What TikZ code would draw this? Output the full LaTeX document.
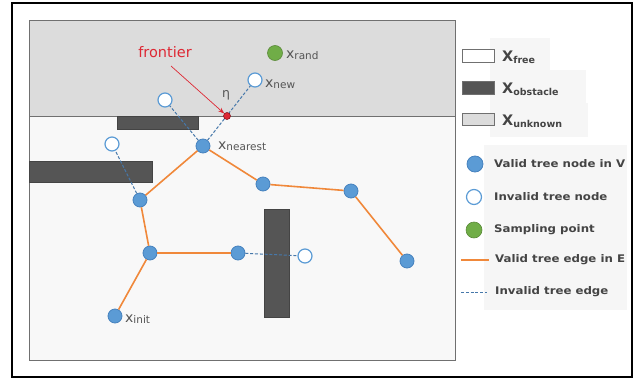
\documentclass[tikz,border=0pt]{standalone}
\usepackage{fontspec}
\setmainfont{DejaVu Sans}
\usetikzlibrary{positioning,arrows.meta}
\definecolor{unknowngray}{RGB}{220,220,220}
\definecolor{freegray}{RGB}{248,248,248}
\definecolor{framegray}{RGB}{112,112,112}
\definecolor{obstgray}{RGB}{85,85,85}
\definecolor{nodeblue}{RGB}{91,155,213}
\definecolor{nodeedge}{RGB}{70,130,190}
\definecolor{treeorange}{RGB}{240,136,58}
\definecolor{edgeblue}{RGB}{70,120,170}
\definecolor{sampgreen}{RGB}{112,173,71}
\definecolor{frontred}{RGB}{222,40,52}
\definecolor{labelgray}{RGB}{85,85,85}
\definecolor{leggray}{RGB}{68,68,68}
\definecolor{legbg}{RGB}{246,246,246}
\newcommand{\xlab}[1]{{\fontsize{14}{14}\selectfont x}\raisebox{-1.5pt}{\fontsize{10.5}{10.5}\selectfont #1}}
\newcommand{\Xlab}[1]{{\fontsize{14.5}{14.5}\selectfont\bfseries X}\raisebox{-2pt}{\fontsize{9.5}{9.5}\selectfont\bfseries #1}}
\newcommand{\legtxt}[1]{\scalebox{1.12}[1]{#1}}

\begin{document}
\begin{tikzpicture}[x=1pt, y=-1pt, >=Stealth,
  valid/.style={circle, fill=nodeblue, draw=nodeedge, line width=0.8pt, minimum size=14pt, inner sep=0pt},
  invalid/.style={circle, fill=white, draw=nodeblue, line width=1.2pt, minimum size=14pt, inner sep=0pt},
  sample/.style={circle, fill=sampgreen, draw=sampgreen!80!black, line width=0.6pt, minimum size=15pt, inner sep=0pt},
  treeedge/.style={draw=treeorange, line width=1.6pt},
  badedge/.style={draw=edgeblue, dash pattern=on 3pt off 1.8pt, line width=1pt},
  mapbox/.style={draw=framegray, line width=1pt},
  obst/.style={fill=obstgray, draw=obstgray!80!black, line width=0.5pt},
  lbl/.style={text=labelgray, inner sep=1pt, anchor=west},
  legtext/.style={text=leggray, font=\fontsize{10.5}{10.5}\selectfont\bfseries, inner sep=1pt, anchor=west},
  legbox/.style={draw=framegray, line width=1pt}]
  \useasboundingbox (0,0) rectangle (639,380);
  % outer frame
  \draw[line width=2pt] (12,3) rectangle (632,377);
  % map regions
  \fill[unknowngray] (29,20) rectangle (455,116);
  \fill[freegray] (29,116) rectangle (455,360);
  \draw[framegray, line width=1pt] (29,116) -- (455,116);
  \draw[mapbox] (29,20) rectangle (455,360);
  % obstacles
  \draw[obst] (117,116) rectangle (198,129);
  \draw[obst] (29,161) rectangle (152,182);
  \draw[obst] (264,209) rectangle (289,317);

  % tree nodes
  \node[valid] (nearest) at (203,146) {};
  \node[valid] (n2) at (263,184) {};
  \node[valid] (n3) at (351,191) {};
  \node[valid] (n4) at (407,261) {};
  \node[valid] (n5) at (140,200) {};
  \node[valid] (n6) at (150,253) {};
  \node[valid] (n7) at (238,253) {};
  \node[valid] (init) at (115,316) {};
  \node[invalid] (xnew) at (255,80) {};
  \node[invalid] (bad1) at (165,100) {};
  \node[invalid] (bad2) at (112,144) {};
  \node[invalid] (bad3) at (305,256) {};
  \node[sample] (xrand) at (275,53) {};

  % edges
  \draw[treeedge] (init) -- (n6);
  \draw[treeedge] (n6) -- (n7);
  \draw[treeedge] (n6) -- (n5);
  \draw[treeedge] (n5) -- (nearest);
  \draw[treeedge] (nearest) -- (n2);
  \draw[treeedge] (n2) -- (n3);
  \draw[treeedge] (n3) -- (n4);
  \draw[badedge] (nearest) -- (bad1);
  \draw[badedge] (n5) -- (bad2);
  \draw[badedge] (n7) -- (bad3);
  \draw[badedge] (nearest) -- (xnew);

  % frontier point
  \node[circle, fill=frontred, draw=frontred!60!black, line width=0.6pt, minimum size=7pt, inner sep=0pt] (front) at (227,116) {};
  \node[text=frontred, font=\fontsize{14.5}{14.5}\selectfont] (frontier) at (165,52) {frontier};
  \coordinate (ftail) at (171,66);
  \draw[->, frontred, line width=0.7pt] (ftail) -- (front);
  \node[text=labelgray, font=\fontsize{12.5}{12.5}\selectfont] (eta) at (226,95) {η};

  % labels
  \node[lbl] (lrand) at (285,55) {\xlab{rand}};
  \node[lbl] (lnew) at (264,84) {\xlab{new}};
  \node[lbl] (lnear) at (217,146) {\xlab{nearest}};
  \node[lbl] (linit) at (124,319) {\xlab{init}};

  % legend
  \fill[legbg] (490,38) rectangle (550,70);
  \fill[legbg] (490,70) rectangle (586,103);
  \fill[legbg] (490,103) rectangle (588,137);
  \fill[legbg] (484,145) rectangle (627,310);
  \draw[legbox, fill=white] (462,49) rectangle (494,62);
  \draw[legbox, fill=obstgray] (462,81) rectangle (494,94);
  \draw[legbox, fill=unknowngray] (462,113) rectangle (494,125);
  \node[anchor=west, text=leggray, inner sep=1pt] (lfree) at (501,57) {\Xlab{free}};
  \node[anchor=west, text=leggray, inner sep=1pt] (lobst) at (501,89) {\Xlab{obstacle}};
  \node[anchor=west, text=leggray, inner sep=1pt] (lunk) at (501,121) {\Xlab{unknown}};
  \node[valid, minimum size=16pt] (kvalid) at (475,164) {};
  \node[invalid, minimum size=15pt] (kinvalid) at (474,197) {};
  \node[sample, minimum size=16pt] (ksample) at (474,230) {};
  \coordinate (ko1) at (461,260);
  \coordinate (ko2) at (489,260);
  \coordinate (kb1) at (461,292);
  \coordinate (kb2) at (487,292);
  \draw[treeedge] (ko1) -- (ko2);
  \draw[badedge] (kb1) -- (kb2);
  \node[legtext] (tvalid) at (493,164) {\legtxt{Valid tree node in V}};
  \node[legtext] (tinvalid) at (493,197) {\legtxt{Invalid tree node}};
  \node[legtext] (tsample) at (493,230) {\legtxt{Sampling point}};
  \node[legtext] (tedge) at (494,260) {\legtxt{Valid tree edge in E}};
  \node[legtext] (tbad) at (494,292) {\legtxt{Invalid tree edge}};
\end{tikzpicture}
\end{document}
